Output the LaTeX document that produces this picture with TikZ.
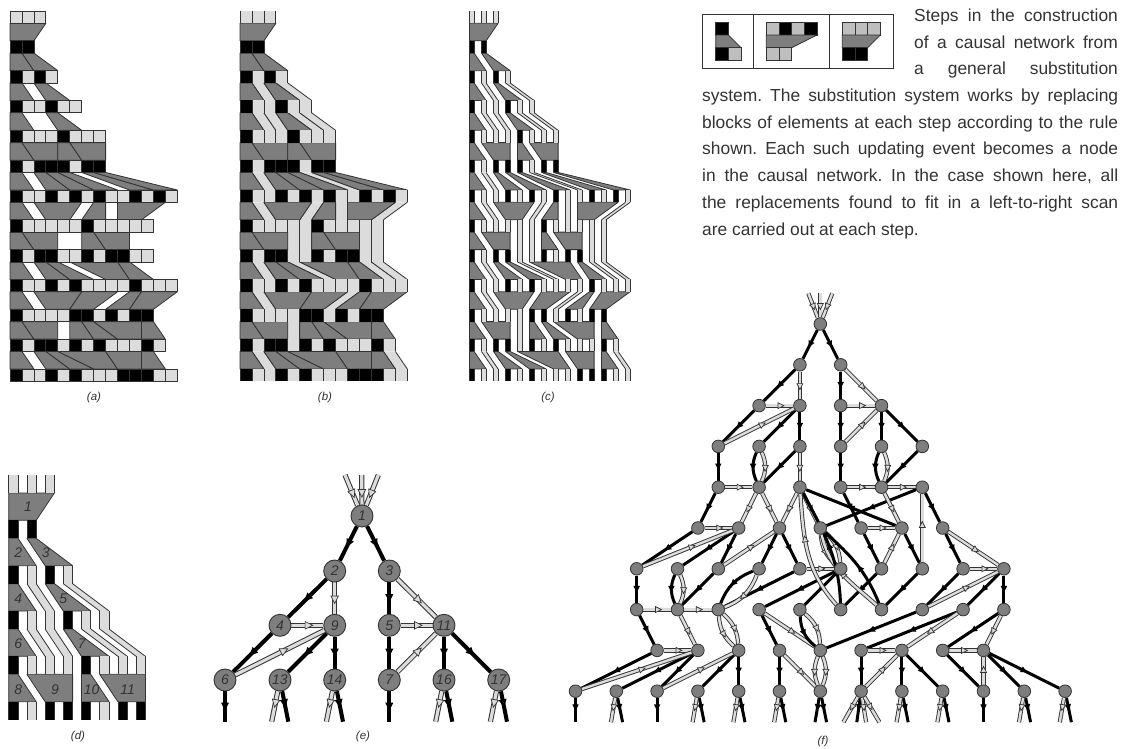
\documentclass[tikz,border=0pt]{standalone}
\usepackage{fontspec}
\setmainfont{Liberation Sans}
\usetikzlibrary{backgrounds,decorations.markings}
\definecolor{Lite}{HTML}{DCDCDC}
\definecolor{RuleLite}{HTML}{BEBEBE}
\definecolor{Mid}{HTML}{7E7E7E}
\definecolor{Dark}{HTML}{333333}
\definecolor{TextGrey}{HTML}{333333}
% ---------- substitution system data ----------
\newcommand\RowLen{0/3,1/2,2/4,3/6,4/8,5/8,6/14,7/12,8/12,9/14,10/12,11/13,12/14}
\newcommand\RowBlack{1/{0,1},2/{0,2},3/{0,3},4/{0,4},5/{0,2,3,4,6,7},6/{0,3,5,7,10,12},7/{0,6},8/{0,2,3,6,8,9},9/{0,3,5,10},10/{0,5,6,8,10,11},11/{0,2,3,5,7,11},12/{0,3,5,9,10,11}}
\newcommand\TrapList{0/0/3/0/2,1/0/1/0/2,1/1/1/2/2,2/0/1/0/2,2/2/1/3/2,3/0/1/0/2,3/3/1/4/2,4/0/1/0/2,4/1/3/2/2,4/4/1/4/2,4/5/3/6/2,5/0/1/0/2,5/2/1/3/2,5/3/1/5/2,5/4/1/7/2,5/6/1/10/2,5/7/1/12/2,6/0/1/0/2,6/2/4/3/2,6/7/1/6/2,6/9/4/9/2,7/0/1/0/2,7/1/3/2/2,7/6/1/6/2,7/7/3/8/2,8/0/1/0/2,8/2/1/3/2,8/3/1/5/2,8/5/4/8/2,8/9/1/10/2,9/0/1/0/2,9/2/4/3/2,9/6/3/5/2,9/10/1/8/2,9/11/3/10/2,10/0/1/0/2,10/1/3/2/2,10/5/1/5/2,10/6/1/7/2,10/7/4/9/2,10/11/1/11/2,11/0/1/0/2,11/2/1/3/2,11/3/1/5/2,11/4/4/7/2,11/8/3/9/2,11/11/1/11/2}
\newcommand\PassList{2/1/2,2/3/5,3/1/2,3/2/3,3/4/6,3/5/7,5/1/2,5/5/9,6/1/2,6/6/5,6/8/8,6/13/11,7/4/4,7/5/5,7/10/10,7/11/11,8/1/2,8/4/7,8/10/12,8/11/13,9/1/2,9/9/7,10/4/4,11/1/2,11/12/13}
% ---------- panel drawing ----------
\newcommand\PCell[3]{% row, index, colour
  \pgfmathsetmacro\cx{\PX+\PP*#2}%
  \pgfmathsetmacro\cy{-(\PY+\PR*#1)}%
  \ifnum\PM=0
    \draw[panelline,fill=#3] (\cx,\cy) rectangle (\cx+\PW,\cy-\PH);
  \else
    \fill[#3] (\cx,\cy) rectangle (\cx+\PW,\cy-\PH);
    \draw[panelline] (\cx,\cy) -- (\cx,\cy-\PH) (\cx+\PW,\cy) -- (\cx+\PW,\cy-\PH);
  \fi}
\newcommand\DrawPanel{%
  \ifnum\PM=1
    \foreach \s/\a/\b in \PassList {%
      \ifnum\s<\PT
        \pgfmathsetmacro\yt{-(\PY+\PR*\s+\PH)}%
        \pgfmathsetmacro\yb{-(\PY+\PR*(\s+1))}%
        \pgfmathsetmacro\xa{\PX+\PP*\a}%
        \pgfmathsetmacro\xb{\PX+\PP*\b}%
        \fill[Lite] (\xa,\yt) -- (\xa+\PW,\yt) -- (\xb+\PW,\yb) -- (\xb,\yb) -- cycle;
        \draw[panelline] (\xa,\yt) -- (\xb,\yb) (\xa+\PW,\yt) -- (\xb+\PW,\yb);
      \fi}%
  \fi
  \foreach \s/\a/\la/\b/\lb in \TrapList {%
    \ifnum\s<\PT
      \pgfmathsetmacro\yt{-(\PY+\PR*\s+\PH)}%
      \pgfmathsetmacro\yb{-(\PY+\PR*(\s+1))}%
      \pgfmathsetmacro\xa{\PX+\PP*\a}%
      \pgfmathsetmacro\xb{\PX+\PP*\b}%
      \pgfmathsetmacro\xc{\PX+\PP*(\a+\la-1)+\PW}%
      \pgfmathsetmacro\xd{\PX+\PP*(\b+\lb-1)+\PW}%
      \draw[panelline,fill=Mid] (\xa,\yt) -- (\xc,\yt) -- (\xd,\yb) -- (\xb,\yb) -- cycle;
    \fi}%
  \foreach \r/\n in \RowLen {%
    \ifnum\r>\PT\else
      \pgfmathtruncatemacro\m{\n-1}%
      \foreach \i in {0,...,\m} {\PCell{\r}{\i}{Lite}}%
    \fi}%
  \foreach \r/\B in \RowBlack {%
    \ifnum\r>\PT\else
      \foreach \i in \B {\PCell{\r}{\i}{black}}%
    \fi}%
}
\tikzset{
  panelline/.style={draw=Dark,line width=.8pt,line join=round},
  rulecellL/.style={draw=Dark,line width=.8pt,fill=RuleLite},
  rulecellB/.style={draw=Dark,line width=.8pt,fill=black},
  rulebox/.style={draw=Dark,line width=.9pt},
  ruletrap/.style={draw=Dark,line width=.8pt,fill=Mid},
  txt/.style={inner sep=0pt,anchor=base west,text=TextGrey,font=\fontsize{17.4}{20}\selectfont\frenchspacing},
  capt/.style={inner sep=0pt,text=Dark,font=\fontsize{11.5}{13}\selectfont\itshape},
  dlabel/.style={inner sep=0pt,text=Dark,font=\fontsize{14}{16}\selectfont\itshape},
  enode/.style={circle,draw=Dark,line width=.9pt,fill=Mid,minimum size=22pt,inner sep=0pt,text=Dark,font=\fontsize{14}{16}\selectfont\itshape},
  fnode/.style={circle,draw=Dark,line width=.8pt,fill=Mid,minimum size=12.6pt,inner sep=0pt},
  blk/.style={draw=black,line width=\BW,postaction={decorate,decoration={markings,mark=at position #1 with {\fill[black,scale=\BS] (-3.4,-3.4) -- (3.4,0) -- (-3.4,3.4) -- cycle;}}}},
  blk/.default=.5,
  lte/.style={draw=Lite,line width=\LIW,preaction={draw=Dark,line width=\LOW},postaction={decorate,decoration={markings,mark=at position #1 with {\filldraw[fill=Lite,draw=Dark,line width=.7pt,scale=\AS] (-3.8,-3.8) -- (3.8,0) -- (-3.8,3.8) -- cycle;}}}},
  lte/.default=.55,
}
\begin{document}
\begin{tikzpicture}[x=1pt,y=1pt]
\useasboundingbox (0,0) rectangle (1128,-748);
% ---------- panels a, b, c ----------
\def\PY{11}\def\PR{29.83}\def\PH{12.3}\def\PT{12}
\def\PX{10}\def\PP{11.95}\def\PW{11.95}\def\PM{0}
\DrawPanel
\def\PX{240}\def\PM{1}
\DrawPanel
\def\PX{469.5}\def\PP{12}\def\PW{4.6}
\DrawPanel
% ---------- panel d ----------
\def\PX{8.7}\def\PP{18.2}\def\PW{9.3}\def\PY{475}\def\PR{45.33}\def\PH{18}\def\PT{5}
\DrawPanel
\node[dlabel] (d1) at (28,-507) {1};
\node[dlabel] (d2) at (18.3,-552.7) {2};
\node[dlabel] (d3) at (45.7,-552.7) {3};
\node[dlabel] (d4) at (18.3,-599) {4};
\node[dlabel] (d5) at (63.3,-599) {5};
\node[dlabel] (d6) at (18.3,-643.3) {6};
\node[dlabel] (d7) at (81.7,-643.3) {7};
\node[dlabel] (d8) at (18.3,-689.3) {8};
\node[dlabel] (d9) at (55,-689.3) {9};
\node[dlabel] (d10) at (91.7,-689.3) {10};
\node[dlabel] (d11) at (127.7,-689.3) {11};
% ---------- captions ----------
\node[capt] (capa) at (94,-398) {(a)};
\node[capt] (capb) at (325,-398) {(b)};
\node[capt] (capc) at (548,-398) {(c)};
\node[capt] (capd) at (78,-737) {(d)};
\node[capt] (cape) at (363,-737) {(e)};
\node[capt] (capf) at (823,-741.5) {(f)};
% ---------- rule box ----------
\draw[rulebox] (702.7,-14) rectangle (893,-68);
\draw[rulebox] (753.3,-14) -- (753.3,-68) (829.7,-14) -- (829.7,-68);
\draw[rulecellB] (715.7,-22.3) rectangle (728.4,-35);
\draw[ruletrap] (715.7,-35) -- (728.4,-35) -- (741,-47.7) -- (715.7,-47.7) -- cycle;
\draw[rulecellB] (715.7,-47.7) rectangle (728.4,-60.3);
\draw[rulecellL] (728.4,-47.7) rectangle (741,-60.3);
\draw[rulecellL] (766.3,-22.3) rectangle (779,-35);
\draw[rulecellB] (779,-22.3) rectangle (791.7,-35);
\draw[rulecellL] (791.7,-22.3) rectangle (804.3,-35);
\draw[rulecellB] (804.3,-22.3) rectangle (817,-35);
\draw[ruletrap] (766.3,-35) -- (817,-35) -- (791.7,-47.7) -- (766.3,-47.7) -- cycle;
\draw[rulecellL] (766.3,-47.7) rectangle (779,-60.3);
\draw[rulecellL] (779,-47.7) rectangle (791.7,-60.3);
\draw[rulecellL] (842.3,-22.3) rectangle (855,-35);
\draw[rulecellL] (855,-22.3) rectangle (867.7,-35);
\draw[rulecellL] (867.7,-22.3) rectangle (880.3,-35);
\draw[ruletrap] (842.3,-35) -- (880.3,-35) -- (867.7,-47.7) -- (842.3,-47.7) -- cycle;
\draw[rulecellB] (842.3,-47.7) rectangle (855,-60.3);
\draw[rulecellB] (855,-47.7) rectangle (867.7,-60.3);
% ---------- text ----------
\node[txt] (t1) at (914,-21.4) {\makebox[203.7pt][s]{Steps in the construction}};
\node[txt] (t2) at (914,-48.1) {\makebox[203.7pt][s]{of a causal network from}};
\node[txt] (t3) at (914,-74.8) {\makebox[203.7pt][s]{a\hfil general\hfil substitution}};
\node[txt] (t4) at (702,-101.5) {\makebox[416pt][s]{system. The substitution system works by replacing}};
\node[txt] (t5) at (702,-128.2) {\makebox[416pt][s]{blocks of elements at each step according to the rule}};
\node[txt] (t6) at (702,-154.9) {\makebox[416pt][s]{shown. Each such updating event becomes a node}};
\node[txt] (t7) at (702,-181.6) {\makebox[416pt][s]{in the causal network. In the case shown here, all}};
\node[txt] (t8) at (702,-208.3) {\makebox[416pt][s]{the replacements found to fit in a left-to-right scan}};
\node[txt] (t9) at (702,-235) {are carried out at each step.};
% ---------- network e ----------
\foreach \n/\x/\y in {1/362/516,2/334.7/571,3/389.3/571,4/280/625.3,9/334.7/625.3,5/389.3/625.3,11/444/625.3,6/225/680,13/280/680,14/334.7/680,7/389.3/680,16/444/680,17/498.7/680}
  \node[enode] (E\n) at (\x,-\y) {\n};
\coordinate (Er1) at (345,-475);
\coordinate (Er2) at (361.7,-475);
\coordinate (Er3) at (378.3,-475);
\foreach \n/\dx/\kind [count=\i] in {6/0/b,13/-8.3/l,13/8.3/b,14/-8.3/l,14/8.3/b,7/0/b,16/-8.3/l,16/8.3/b,17/-8.3/l,17/8.3/b}
  \path (E\n) ++(\dx,-41.7) coordinate (Es\i);
\begin{pgfonlayer}{background}
\def\BW{4pt}\def\LIW{3.2pt}\def\LOW{5.2pt}\def\AS{1}\def\BS{1.2}
\foreach \a/\b in {1/2,1/3,2/4,3/5,4/6,9/13,9/14,5/7,11/16,11/17}
  \draw[blk] (E\a) -- (E\b);
\foreach \a/\b in {2/9,3/11,4/9,5/11,6/9,7/11}
  \draw[lte] (E\a) -- (E\b);
\foreach \r in {1,2,3}
  \draw[lte=.62] (Er\r) -- (E1);
\draw[blk] (E6) -- (Es1);
\draw[lte=.4] (E13) -- (Es2);
\draw[blk=.4] (E13) -- (Es3);
\draw[lte=.4] (E14) -- (Es4);
\draw[blk=.4] (E14) -- (Es5);
\draw[blk] (E7) -- (Es6);
\draw[lte=.4] (E16) -- (Es7);
\draw[blk=.4] (E16) -- (Es8);
\draw[lte=.4] (E17) -- (Es9);
\draw[blk=.4] (E17) -- (Es10);
\end{pgfonlayer}
% ---------- network f ----------
\foreach \lv/\K in {0/{0},1/{-1,1},2/{-3,-1,1,3},3/{-5,-3,-1,1,3,5},4/{-5,-3,-1,1,3,5},5/{-6,-4,-2,0,2,4,6},6/{-9,-7,-5,-3,-1,1,3,5,7,9},7/{-9,-7,-5,-3,-1,1,3,5,7,9},8/{-8,-6,-4,-2,0,2,4,6,8},9/{-12,-10,-8,-6,-4,-2,0,2,4,6,8,10,12}}
  \foreach \kv in \K
    \node[fnode] (L\lv k\kv) at ({820.3+20.4*\kv},{-(324+40.8*\lv)}) {};
\foreach \r/\dx in {1/-12,2/0,3/12}
  \path (L0k0) ++(\dx,30.7) coordinate (Fr\r);
\begin{pgfonlayer}{background}
\def\BW{3pt}\def\LIW{2.4pt}\def\LOW{4.2pt}\def\AS{.78}\def\BS{.95}
\foreach \a/\b in {L0k0/L1k-1,L0k0/L1k1,L1k-1/L2k-3,L1k1/L2k1,L2k-3/L3k-5,L2k-1/L3k-3,L2k-1/L3k-1,L2k1/L3k1,L2k3/L3k3,L2k3/L3k5,L3k-5/L4k-5,L3k-1/L4k-3,L3k1/L4k1,L3k5/L4k3,L4k-5/L5k-6,L4k1/L5k2,L5k-6/L6k-9,L5k-4/L6k-7,L5k-4/L6k-5,L5k-2/L6k-3,L5k-2/L6k-1,L5k2/L6k3,L5k4/L6k5,L5k6/L6k7,L5k4/L4k-1,L4k5/L5k0,L4k5/L5k6,L6k-9/L7k-9,L6k-5/L7k-7,L6k-1/L7k-5,L6k1/L7k-3,L6k1/L7k-1,L6k3/L7k1,L6k5/L7k3,L6k7/L7k5,L6k9/L7k7,L6k9/L7k9,L7k-9/L8k-8,L7k-3/L8k-2,L7k5/L8k0,L7k7/L8k2,L7k9/L8k6,L8k-8/L9k-12,L8k-6/L9k-10,L8k-6/L9k-8,L8k-4/L9k-6,L8k-4/L9k-4,L8k-2/L9k-2,L8k2/L9k2,L8k4/L9k4,L8k4/L9k6,L8k6/L9k8,L8k8/L9k10,L8k8/L9k12}
  \draw[blk] (\a) -- (\b);
\foreach \a/\b in {L1k-1/L2k-1,L2k-3/L2k-1,L3k-5/L2k-1,L1k1/L2k3,L2k1/L2k3,L3k1/L2k3,L4k-5/L4k-3,L3k-1/L4k-1,L4k1/L4k3,L4k3/L4k5,L4k-3/L5k-4,L4k-3/L5k-2,L4k-1/L5k-2,L4k-1/L5k0,L4k3/L5k4,L5k-6/L5k-4,L6k-9/L5k-4,L6k-5/L5k-2,L5k2/L5k4,L6k3/L5k4,L6k5/L4k5,L5k6/L6k9,L6k7/L6k9,L7k5/L6k9,L6k-1/L6k1,L7k-9/L7k-7,L7k-7/L7k-5,L7k-7/L8k-6,L8k-8/L8k-6,L9k-12/L8k-6,L9k-8/L8k-4,L7k-3/L8k0,L8k-2/L9k0,L8k2/L8k4,L9k2/L8k4,L7k7/L8k4,L8k6/L8k8,L7k9/L8k8,L9k8/L8k8}
  \draw[lte] (\a) -- (\b);
\foreach \r in {1,2,3}
  \draw[lte=.55] (Fr\r) -- (L0k0);
% curved pairs: black bulges one way, light the other
\foreach \a/\b in {L3k-3/L4k-3,L3k3/L4k3,L6k-7/L7k-7,L6k-3/L7k-5,L7k-1/L8k0} {
  \draw[blk] (\a) to[bend right=24] (\b);
  \draw[lte] (\a) to[bend left=24] (\b);
}
\foreach \a/\b in {L5k0/L6k1,L7k-5/L8k-4,L8k0/L9k0} {
  \draw[lte] (\a) to[bend right=22] (\b);
  \draw[lte] (\a) to[bend left=22] (\b);
}
% long curves
\draw[blk=.45] (L7k3) to[out=112,in=-42] (L5k0);
\draw[lte=.5] (L7k3) to[out=138,in=-78] (L5k0);
\draw[blk=.5] (L7k1) to[out=92,in=-62] (L4k-1);
\draw[lte=.62] (L7k1) to[out=132,in=-86] (L4k-1);
% stubs
\foreach \kv/\dx [count=\i] in {-12/0,-10/6.3,-8/0,-6/6.3,-4/6.3,-2/6.3,0/-5.3,0/6.3,2/-4.3,4/6.3,6/6.3,8/0,10/6.3,12/6.3} {
  \path (L9k\kv) ++(\dx,-31) coordinate (FB\i);
  \draw[blk=.4] (L9k\kv) -- (FB\i);
}
\foreach \kv/\dx [count=\i] in {-10/-5.3,-6/-5.3,-4/-5.3,-2/-5.3,2/-17.7,2/5,2/18.3,4/-5.3,6/-5.3,10/-5.3,12/-5.3} {
  \path (L9k\kv) ++(\dx,-31) coordinate (FL\i);
  \draw[lte=.4] (L9k\kv) -- (FL\i);
}
\end{pgfonlayer}
\end{tikzpicture}
\end{document}
